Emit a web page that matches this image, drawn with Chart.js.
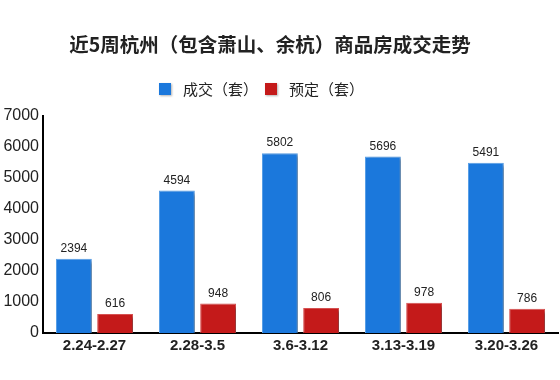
<!DOCTYPE html>
<html><head><meta charset="utf-8">
<script src="https://cdn.jsdelivr.net/npm/chart.js@4/dist/chart.umd.min.js"></script>
<style>html,body{margin:0;padding:0;background:#fff}#wrap{width:560px;height:380px}</style>
</head><body><div id="wrap"><canvas id="c" width="560" height="380"></canvas></div>
<script>
const categories = ['2.24-2.27','2.28-3.5','3.6-3.12','3.13-3.19','3.20-3.26'];
const dealValues = [2394, 4594, 5802, 5696, 5491];
const reserveValues = [616, 948, 806, 978, 786];
const seriesNames = ['成交（套）','预定（套）'];
const titleText = '近5周杭州（包含萧山、余杭）商品房成交走势';

const FONT = "'Liberation Sans', Arial, 'Noto Sans CJK SC', sans-serif";
const CJK = "'Noto Sans CJK SC', 'Liberation Sans', sans-serif";

const shadowPlugin = {
  id: 'shadow',
  beforeDatasetsDraw(chart) {
    const ctx = chart.ctx;
    ctx.save();
    ctx.shadowColor = 'rgba(0,0,0,0.35)';
    ctx.shadowBlur = 3;
    ctx.shadowOffsetX = 3;
    ctx.shadowOffsetY = 2;
  },
  afterDatasetsDraw(chart) {
    const ctx = chart.ctx;
    ctx.restore();
    ctx.save();
    ctx.font = '12px ' + FONT;
    ctx.fillStyle = '#222';
    ctx.textAlign = 'center';
    ctx.textBaseline = 'middle';
    chart.data.datasets.forEach((ds, di) => {
      chart.getDatasetMeta(di).data.forEach((bar, i) => {
        ctx.fillText(String(ds.data[i]), bar.x, bar.y - 10);
      });
    });
    ctx.restore();
  }
};

const headerPlugin = {
  id: 'header',
  afterDraw(chart) {
    const ctx = chart.ctx;
    ctx.save();
    ctx.fillStyle = '#222';
    ctx.textBaseline = 'middle';
    ctx.textAlign = 'center';
    ctx.font = 'bold 19.5px ' + CJK;
    ctx.fillText(titleText, 270, 45);
    // legend
    ctx.textAlign = 'left';
    ctx.font = '15px ' + CJK;
    let x = 159;
    const ly = 89;
    chart.data.datasets.forEach((ds) => {
      ctx.save();
      ctx.shadowColor = 'rgba(0,0,0,0.3)';
      ctx.shadowBlur = 2; ctx.shadowOffsetX = 1; ctx.shadowOffsetY = 1;
      ctx.fillStyle = ds.backgroundColor;
      ctx.fillRect(x, ly - 6, 12, 12);
      ctx.restore();
      ctx.fillStyle = '#222';
      const tx = x + 24;
      ctx.fillText(ds.label, tx, ly);
      x = tx + ctx.measureText(ds.label).width + 7;
    });
    ctx.restore();
  }
};

new Chart(document.getElementById('c'), {
  type: 'bar',
  data: {
    labels: categories,
    datasets: [
      { label: seriesNames[0], data: dealValues, backgroundColor: '#1b78dc', borderColor: '#5a9fe6', borderWidth: 1 },
      { label: seriesNames[1], data: reserveValues, backgroundColor: '#c41a1a', borderColor: '#d85252', borderWidth: 1 }
    ]
  },
  options: {
    responsive: false,
    animation: false,
    devicePixelRatio: 1,
    layout: { padding: { top: 116, right: 2, left: 0, bottom: 0 } },
    datasets: { bar: { categoryPercentage: 0.8, barPercentage: 0.87 } },
    plugins: {
      title: { display: false },
      legend: { display: false },
      tooltip: { enabled: false }
    },
    scales: {
      x: {
        grid: { display: false, drawTicks: false },
        border: { display: true, color: '#000', width: 2 },
        ticks: { color: '#222', font: { family: FONT, size: 15, weight: 'bold' }, padding: 4, maxRotation: 0 },
        afterFit(s) { s.height = 47; }
      },
      y: {
        min: 0, max: 7000,
        grid: { display: false, drawTicks: false },
        border: { display: true, color: '#000', width: 2 },
        ticks: { stepSize: 1000, color: '#222', font: { family: FONT, size: 16 }, padding: 4,
                 callback: (v) => String(v) },
        afterFit(s) { s.width = 43; }
      }
    }
  },
  plugins: [shadowPlugin, headerPlugin]
});
</script>
</body></html>
